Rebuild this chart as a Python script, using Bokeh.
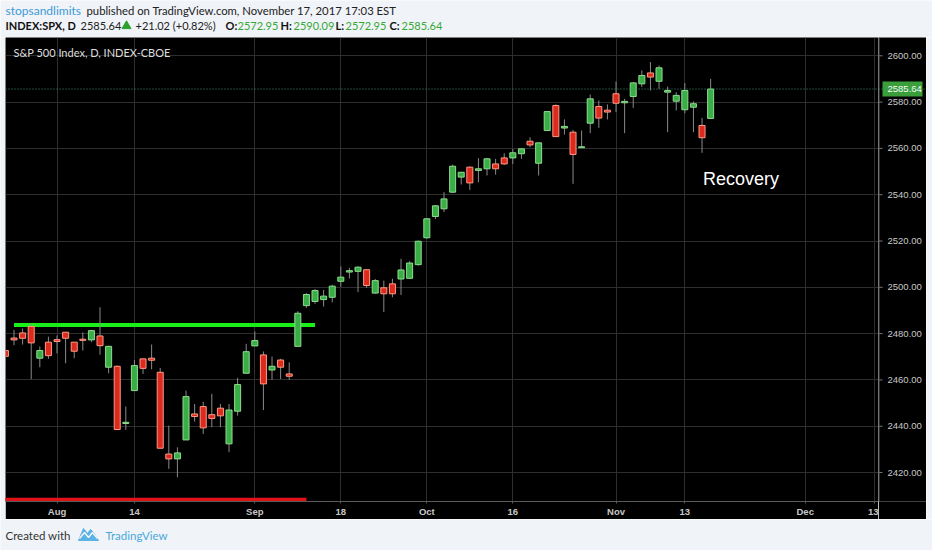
import numpy as np
from bokeh.plotting import figure
from bokeh.models import Range1d, FixedTicker, Label, Span
from bokeh.layouts import column, row
from bokeh.core.properties import value
from bokeh.embed import file_html
from bokeh.resources import INLINE

# ---------------- data ----------------
dates = ["2017-07-24", "2017-07-25", "2017-07-26", "2017-07-27", "2017-07-28", "2017-07-31",
         "2017-08-01", "2017-08-02", "2017-08-03", "2017-08-04", "2017-08-07", "2017-08-08",
         "2017-08-09", "2017-08-10", "2017-08-11", "2017-08-14", "2017-08-15", "2017-08-16",
         "2017-08-17", "2017-08-18", "2017-08-21", "2017-08-22", "2017-08-23", "2017-08-24",
         "2017-08-25", "2017-08-28", "2017-08-29", "2017-08-30", "2017-08-31", "2017-09-01",
         "2017-09-05", "2017-09-06", "2017-09-07", "2017-09-08", "2017-09-11", "2017-09-12",
         "2017-09-13", "2017-09-14", "2017-09-15", "2017-09-18", "2017-09-19", "2017-09-20",
         "2017-09-21", "2017-09-22", "2017-09-25", "2017-09-26", "2017-09-27", "2017-09-28",
         "2017-09-29", "2017-10-02", "2017-10-03", "2017-10-04", "2017-10-05", "2017-10-06",
         "2017-10-09", "2017-10-10", "2017-10-11", "2017-10-12", "2017-10-13", "2017-10-16",
         "2017-10-17", "2017-10-18", "2017-10-19", "2017-10-20", "2017-10-23", "2017-10-24",
         "2017-10-25", "2017-10-26", "2017-10-27", "2017-10-30", "2017-10-31", "2017-11-01",
         "2017-11-02", "2017-11-03", "2017-11-06", "2017-11-07", "2017-11-08", "2017-11-09",
         "2017-11-10", "2017-11-13", "2017-11-14", "2017-11-15", "2017-11-16"]

opens = [2472.7, 2478.1, 2480.3, 2483.1, 2469.4, 2476.3,
         2477.4, 2480.6, 2476.3, 2477.6, 2477.3, 2479.0,
         2465.5, 2465.9, 2441.2, 2455.4, 2469.1, 2469.4,
         2463.3, 2428.0, 2425.9, 2434.1, 2445.3, 2448.5,
         2445.0, 2447.8, 2432.4, 2446.5, 2462.9, 2474.7,
         2470.8, 2464.3, 2468.6, 2462.6, 2474.5, 2492.1,
         2493.9, 2494.7, 2495.7, 2502.6, 2506.6, 2506.9,
         2507.6, 2497.5, 2499.8, 2501.5, 2503.6, 2503.9,
         2509.8, 2521.4, 2530.6, 2533.9, 2541.1, 2547.6,
         2551.9, 2550.5, 2551.2, 2553.3, 2555.9, 2555.9,
         2557.7, 2563.1, 2553.6, 2567.7, 2578.5, 2568.8,
         2567.0, 2560.4, 2570.9, 2578.1, 2576.5, 2583.6,
         2579.7, 2582.4, 2587.9, 2592.6, 2589.0, 2584.3,
         2580.4, 2576.7, 2577.8, 2569.9, 2572.95]

highs = [2473.5, 2481.6, 2482.2, 2484.2, 2474.4, 2478.7,
         2479.2, 2480.6, 2476.3, 2480.5, 2481.6, 2491.4,
         2474.8, 2466.2, 2448.5, 2468.6, 2469.1, 2475.3,
         2465.2, 2440.3, 2430.9, 2455.4, 2449.6, 2450.6,
         2454.0, 2449.6, 2449.6, 2460.9, 2475.6, 2480.9,
         2472.3, 2470.1, 2469.1, 2467.6, 2489.7, 2497.5,
         2499.3, 2498.9, 2501.1, 2509.0, 2508.4, 2509.1,
         2507.6, 2503.6, 2502.9, 2503.7, 2512.3, 2511.3,
         2520.2, 2529.6, 2535.5, 2541.1, 2553.0, 2549.7,
         2552.2, 2555.8, 2555.9, 2555.5, 2557.9, 2559.8,
         2560.1, 2564.8, 2562.4, 2575.9, 2579.0, 2572.5,
         2568.0, 2567.7, 2583.3, 2580.7, 2579.0, 2588.9,
         2581.4, 2588.6, 2593.7, 2597.3, 2595.8, 2586.7,
         2584.3, 2588.2, 2580.3, 2573.2, 2590.09]

lows = [2466.5, 2475.0, 2475.3, 2460.4, 2465.5, 2469.1,
        2471.5, 2467.2, 2469.4, 2472.7, 2476.3, 2470.9,
        2462.9, 2438.3, 2438.4, 2455.4, 2462.6, 2464.6,
        2430.5, 2421.6, 2418.0, 2434.1, 2442.0, 2436.7,
        2439.6, 2439.6, 2428.8, 2444.6, 2462.9, 2474.7,
        2447.0, 2460.0, 2460.4, 2460.0, 2474.5, 2491.1,
        2492.9, 2491.7, 2493.5, 2500.3, 2503.8, 2497.9,
        2499.8, 2497.2, 2489.3, 2495.7, 2496.7, 2503.9,
        2509.4, 2521.0, 2529.5, 2532.5, 2540.8, 2544.4,
        2542.1, 2545.4, 2548.3, 2548.7, 2552.9, 2553.3,
        2555.5, 2560.5, 2548.3, 2567.7, 2565.1, 2566.0,
        2544.7, 2560.2, 2566.6, 2568.9, 2572.5, 2575.7,
        2566.6, 2577.5, 2586.5, 2585.0, 2585.7, 2567.0,
        2576.4, 2575.2, 2567.0, 2558.1, 2572.95]

closes = [2470.2, 2477.3, 2478.0, 2476.0, 2472.7, 2470.5,
          2476.6, 2478.0, 2472.4, 2477.1, 2481.3, 2474.8,
          2474.5, 2438.6, 2441.7, 2466.2, 2465.0, 2468.5,
          2430.5, 2425.9, 2428.5, 2452.8, 2444.2, 2439.3,
          2443.4, 2444.5, 2447.0, 2458.0, 2472.2, 2477.0,
          2458.3, 2465.9, 2465.5, 2461.6, 2488.8, 2496.9,
          2498.6, 2496.2, 2500.5, 2504.4, 2507.2, 2508.7,
          2500.8, 2502.9, 2497.2, 2497.2, 2507.5, 2510.5,
          2519.9, 2529.6, 2535.2, 2538.2, 2552.3, 2549.7,
          2545.1, 2551.2, 2555.5, 2551.2, 2553.3, 2558.1,
          2559.8, 2561.5, 2562.4, 2575.9, 2565.1, 2569.5,
          2557.4, 2560.7, 2581.4, 2573.1, 2575.7, 2579.5,
          2580.3, 2588.3, 2591.5, 2590.8, 2594.8, 2585.0,
          2582.9, 2585.0, 2579.3, 2564.62, 2585.64]

tick_dates = ["2017-08-01", "2017-08-14", "2017-09-01", "2017-09-18", "2017-10-02",
              "2017-10-16", "2017-11-01", "2017-11-13", "2017-12-01", "2017-12-13"]
tick_labels = ["Aug", "14", "Sep", "18", "Oct", "16", "Nov", "13", "Dec", "13"]
price_ticks = [2420, 2440, 2460, 2480, 2500, 2520, 2540, 2560, 2580, 2600]

support_level = 2483.7
support_dates = ["2017-07-25", "2017-09-13"]
floor_level = 2408.4
floor_dates = ["2017-07-20", "2017-09-12"]
note_text = "Recovery"
note_date = "2017-11-14"
note_price = 2546.6

holidays = ["2017-09-04"]
origin = "2017-08-01"


def bar_index(ds):
    return [int(np.busday_count(origin, d, holidays=holidays)) if d >= origin
            else -int(np.busday_count(d, origin, holidays=holidays)) for d in ds]


x = bar_index(dates)
up = [c >= o for o, c in zip(opens, closes)]
last = closes[-1]
prev = closes[-2]
chg = last - prev

BG = "#f0f3f7"
TOTAL_W = 932


def blank(width, height, xr, yr):
    f = figure(width=width, height=height, x_range=xr, y_range=yr, toolbar_location=None,
               output_backend="svg", x_axis_location=None, y_axis_location=None,
               min_border=0)
    f.grid.visible = False
    f.outline_line_color = None
    f.background_fill_color = BG
    f.border_fill_color = BG
    return f


# ---------------- header ----------------
hdr = blank(TOTAL_W, 37, Range1d(0, TOTAL_W), Range1d(37, 0))
HF = "Lato"


def htxt(xp, yp, t, color="#222222", bold=False, size="11px"):
    hdr.add_layout(Label(x=xp, y=yp, text=t, text_color=color, text_font=HF,
                         text_font_size=size, text_baseline="middle",
                         text_font_style="bold" if bold else "normal"))


htxt(5, 10, "stopsandlimits", color="#3d9ad6", size="12px")
htxt(86, 10, "published on TradingView.com, November 17, 2017 17:03 EST", size="11.3px")
htxt(5, 25, "INDEX:SPX, D", color="#111111", bold=True, size="11px")
htxt(80, 25, f"{last:.2f}")
hdr.scatter([126], [25.5], marker="triangle", size=9, color="#2ea02e")
htxt(135, 25, f"+{chg:.2f} (+{chg / prev * 100:.2f}%)")
GV = "#36a836"
htxt(225, 25, "O:", color="#111111", bold=True)
htxt(237, 25, f"{opens[-1]:.2f}", color=GV)
htxt(280, 25, "H:", color="#111111", bold=True)
htxt(293, 25, f"{highs[-1]:.2f}", color=GV)
htxt(335, 25, "L:", color="#111111", bold=True)
htxt(345, 25, f"{lows[-1]:.2f}", color=GV)
htxt(389, 25, "C:", color="#111111", bold=True)
htxt(401, 25, f"{closes[-1]:.2f}", color=GV)

# ---------------- main chart ----------------
FRAME_H = 464
p = figure(frame_width=873, frame_height=FRAME_H, x_range=Range1d(-5.99, 95.52),
           y_range=Range1d(2407.5, 2607.9), toolbar_location=None, output_backend="svg",
           x_axis_location="below", y_axis_location=None,
           min_border_left=0, min_border_top=0, min_border_right=0, min_border_bottom=18)
p.background_fill_color = "#000000"
p.border_fill_color = "#000000"
p.outline_line_color = None

xt = bar_index(tick_dates)
p.xaxis.ticker = FixedTicker(ticks=xt)
p.xaxis.major_label_overrides = {t: l for t, l in zip(xt, tick_labels)}
p.xaxis.axis_line_color = "#5a5a5a"
p.xaxis.major_tick_line_color = "#5a5a5a"
p.xaxis.major_tick_out = 2
p.xaxis.major_tick_in = 0
p.xaxis.minor_tick_line_color = None
p.xaxis.major_label_text_color = "#c8c8c8"
p.xaxis.major_label_text_font = "Liberation Sans"
p.xaxis.major_label_text_font_size = "9.5px"
p.xaxis.major_label_text_font_style = "bold"
p.xaxis.major_label_standoff = 2

p.xgrid.ticker = FixedTicker(ticks=xt)
p.ygrid.ticker = FixedTicker(ticks=price_ticks)
p.grid.grid_line_color = "#2e2e2e"
p.grid.grid_line_width = 1

# lines drawn by the author
sx = bar_index(support_dates)
p.line(sx, [support_level, support_level], line_color="#19f019", line_width=4)
fx = bar_index(floor_dates)
p.line(fx, [floor_level, floor_level], line_color="#e01218", line_width=3.5)

# last price dotted line
p.add_layout(Span(location=last, dimension="width", line_color="#3f9a74",
                  line_dash="1 2", line_width=1))

# candles
p.segment(x0=x, y0=lows, x1=x, y1=highs, line_color="#8a8a8a", line_width=1)
fill = ["#3aae46" if u else "#dc2a1e" for u in up]
edge = ["#8fdc8f" if u else "#ff9a84" for u in up]
top = [max(o, c) for o, c in zip(opens, closes)]
bot = [min(o, c) for o, c in zip(opens, closes)]
bot = [b if t - b > 0.4 else t - 0.4 for t, b in zip(top, bot)]
p.vbar(x=x, top=top, bottom=bot, width=0.7, fill_color=fill, line_color=edge, line_width=1)

# texts inside chart
p.add_layout(Label(x=8, y=2601.4, x_units="screen", text="S&P 500 Index, D, INDEX-CBOE",
                   text_color="#dddddd", text_font="Lato", text_font_size="11px",
                   text_baseline="middle"))
note_x = bar_index([note_date])[0] + 1.1
p.add_layout(Label(x=note_x, y=note_price, text=note_text, text_color="#ffffff",
                   text_font="Liberation Sans", text_font_size="18px", text_baseline="middle"))

# ---------------- price scale (right) ----------------
axf = figure(frame_width=48, frame_height=FRAME_H, x_range=Range1d(0, 48), y_range=p.y_range,
             toolbar_location=None, output_backend="svg", x_axis_location=None,
             y_axis_location=None, min_border_left=0, min_border_right=0, min_border_top=0,
             min_border_bottom=18)
axf.grid.visible = False
axf.outline_line_color = None
axf.background_fill_color = "#000000"
axf.border_fill_color = "#000000"
axf.add_layout(Span(location=0.5, dimension="height", line_color="#5a5a5a", line_width=1))
axf.add_layout(Span(location=last, dimension="width", line_color="#3f9a74",
                    line_dash="1 2", line_width=1))
axf.segment(x0=[0] * len(price_ticks), y0=price_ticks, x1=[4] * len(price_ticks),
            y1=price_ticks, line_color="#777777", line_width=1)
axf.text(x=[9] * len(price_ticks), y=price_ticks, text=[f"{v:.2f}" for v in price_ticks],
         text_color="#c8c8c8", text_font=value("Liberation Sans"), text_font_size="9.5px",
         text_baseline="middle", text_align="left")
axf.rect(x=[24], y=[last], width=40, height=15, height_units="screen",
         fill_color="#3a9f3a", line_color=None)
axf.text(x=[9], y=[last], text=[f"{last:.2f}"], text_color="#ffffff",
         text_font=value("Liberation Sans"), text_font_size="9.5px",
         text_baseline="middle", text_align="left")

padL = blank(5, 482, Range1d(0, 1), Range1d(0, 1))
padR = blank(6, 482, Range1d(0, 1), Range1d(0, 1))

# ---------------- footer ----------------
ftr = blank(TOTAL_W, 31, Range1d(0, TOTAL_W), Range1d(550, 519))
ftr.add_layout(Label(x=5, y=535, text="Created with", text_color="#333333", text_font="Lato",
                     text_font_size="11.5px", text_baseline="middle"))
ftr.patch([78, 83, 87, 90, 93, 98], [540, 528, 533, 529, 532, 540], color="#5ab3e4")
ftr.line([79, 84, 88, 92, 97], [538, 532, 537, 532, 538], line_color=BG, line_width=1.5)
ftr.add_layout(Label(x=105, y=535, text="TradingView", text_color="#4aa8dc", text_font="Lato",
                     text_font_size="11.5px", text_baseline="middle"))

layout = column(hdr, row(padL, p, axf, padR, spacing=0), ftr, spacing=0)
open("out.html", "w").write(file_html(layout, INLINE))
